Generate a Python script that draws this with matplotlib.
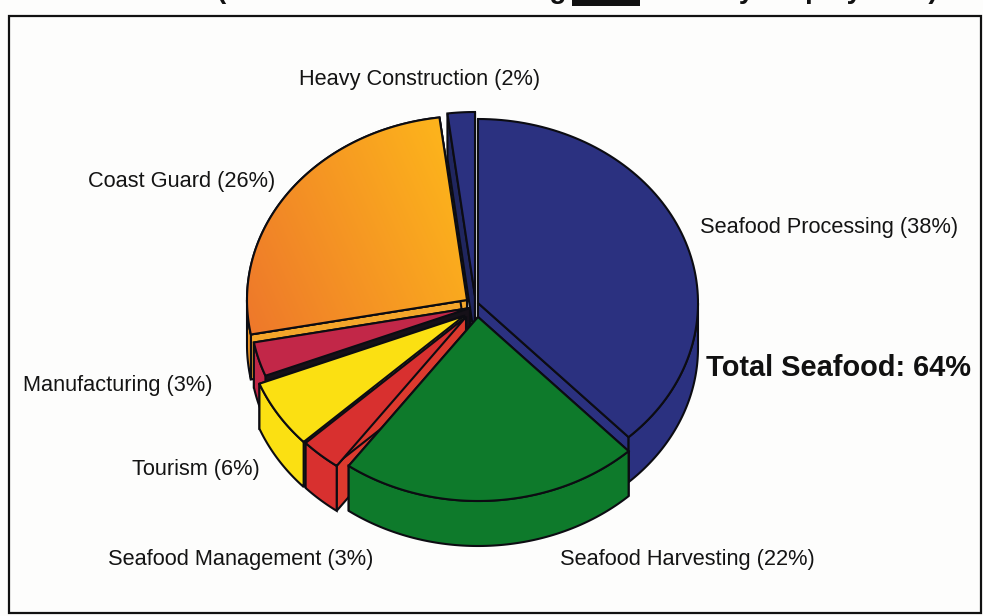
import numpy as np
import matplotlib
matplotlib.use("Agg")
import matplotlib.pyplot as plt
from matplotlib.patches import Polygon, Rectangle

plt.rcParams["font.family"] = ["Liberation Sans", "DejaVu Sans"]

# Employment shares by sector, clockwise from twelve o'clock
sectors = ["Seafood Processing", "Seafood Harvesting", "Seafood Management",
           "Tourism", "Manufacturing", "Coast Guard", "Heavy Construction"]
shares = [38, 22, 3, 6, 3, 26, 2]
seafood_total = 64

top_colors = ["#2b3180", "#0e7a2b", "#d8302f", "#fbe012", "#c22748", "#f79a24", "#2b3180"]
cut_colors = ["#2b3180", "#0e7a2b", "#dc3a2e", "#f6e24a", "#151018", "#f4a62a", "#20265f"]
centers = [(478, 303), (478, 317), (466, 317), (464, 316), (470, 308), (467, 300), (475, 296)]
drawing_order = [6, 5, 4, 3, 2, 0, 1]

RX, RY, DEPTH = 220, 184, 45
EDGE = "#0c0c12"
LW = 1.5

fig = plt.figure(figsize=(9.83, 6.16), dpi=100, facecolor="#fdfdfc")
ax = fig.add_axes([0, 0, 1, 1])
ax.axis("off")


def rim(cx, cy, t0, t1, drop=0):
    t = np.radians(np.linspace(t0, t1, 90))
    return np.column_stack([cx + RX * np.sin(t), cy - RY * np.cos(t) + drop])


def orange_fill(patch):
    # Coast Guard runs from deep orange at lower left to amber at upper right
    u, v = np.meshgrid(np.linspace(0, 1, 256), np.linspace(0, 1, 256))
    w = np.clip(0.8 * u + 0.35 * (1 - v), 0, 1)[..., None]
    low, high = np.array([0.93, 0.46, 0.17]), np.array([0.99, 0.70, 0.11])
    img = ax.imshow(low * (1 - w) + high * w, extent=(240, 470, 340, 110),
                    aspect="auto", zorder=patch.get_zorder())
    img.set_clip_path(patch)


edges = np.cumsum([0] + shares) / sum(shares) * 360
z = 2
for i in drawing_order:
    t0, t1 = edges[i], edges[i + 1]
    cx, cy = centers[i]

    # Flat cut faces along both radial edges
    for t in (t0, t1):
        outer = rim(cx, cy, t, t, 0)[0]
        face = [(cx, cy), outer, outer + (0, DEPTH), (cx, cy + DEPTH)]
        ax.add_patch(Polygon(face, closed=True, fc=cut_colors[i], ec=EDGE, lw=LW, zorder=z))
    z += 1

    # Curved outer wall, only where it faces the viewer
    a, b = max(t0, 90), min(t1, 270)
    if a < b:
        wall = np.vstack([rim(cx, cy, a, b), rim(cx, cy, a, b, DEPTH)[::-1]])
        ax.add_patch(Polygon(wall, closed=True, fc=top_colors[i], ec=EDGE, lw=LW, zorder=z))
        z += 1

    # Top surface
    top = np.vstack([[(cx, cy)], rim(cx, cy, t0, t1)])
    patch = Polygon(top, closed=True, fc=top_colors[i], ec=EDGE, lw=LW, zorder=z)
    ax.add_patch(patch)
    if sectors[i] == "Coast Guard":
        orange_fill(patch)
        ax.add_patch(Polygon(top, closed=True, fc="none", ec=EDGE, lw=LW, zorder=z + 0.5))
    z += 1

# Frame around the chart
ax.add_patch(Rectangle((9, 16), 972, 597, fc="none", ec="#111111", lw=1.6, zorder=1))

label_style = dict(fontsize=15.7, color="#141414", va="center", ha="left", zorder=50)
label_spots = {
    "Heavy Construction": (299, 80),
    "Coast Guard": (88, 181),
    "Seafood Processing": (700, 228),
    "Manufacturing": (23, 386),
    "Tourism": (132, 469),
    "Seafood Management": (108, 560),
    "Seafood Harvesting": (560, 560),
}
for name, share in zip(sectors, shares):
    x, y = label_spots[name]
    ax.text(x, y, f"{name} ({share}%)", **label_style)

ax.text(706, 368, f"Total Seafood: {seafood_total}%", fontsize=20.9, fontweight="bold",
        color="#111111", va="center", ha="left", zorder=50)

# Heading sits on the upper margin
ax.text(566, -2, "(Share of Total Jobs Using", fontsize=20, fontweight="bold",
        color="#111111", va="baseline", ha="right", zorder=50)
ax.add_patch(Rectangle((572, 0), 68, 6, fc="#111111", ec="none", zorder=50))
ax.text(648, -2, "Monthly Employment)", fontsize=20, fontweight="bold",
        color="#111111", va="baseline", ha="left", zorder=50)

ax.set_xlim(0, 983)
ax.set_ylim(616, 0)
fig.savefig("out.png", dpi=100, facecolor=fig.get_facecolor())
